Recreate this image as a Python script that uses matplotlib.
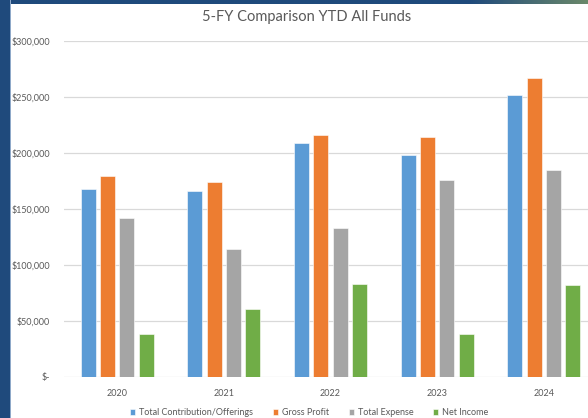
import numpy as np
import matplotlib.pyplot as plt
from matplotlib.patches import Rectangle
from matplotlib.ticker import FuncFormatter

# Datos
years = ["2020", "2021", "2022", "2023", "2024"]
contributions = [167200, 166000, 208300, 198200, 251500]
gross_profit = [179100, 174000, 215700, 214200, 266400]
total_expense = [141300, 113600, 132900, 175500, 184500]
net_income = [37700, 60600, 82300, 38000, 81700]

series_names = ["Total Contribution/Offerings", "Gross Profit", "Total Expense", "Net Income"]
colors = ["#5B9BD5", "#ED7D31", "#A5A5A5", "#70AD47"]
text_color = "#595959"

plt.rcParams['font.family'] = ['Lato', 'DejaVu Sans']

W, H = 588, 418
fig = plt.figure(figsize=(W / 100, H / 100), dpi=100)
fig.patch.set_facecolor("white")

# Marco azul (izquierda y arriba, con degradado a verde)
fig.patches.append(Rectangle((0, 0), 9.5 / W, 1, transform=fig.transFigure,
                             facecolor="#1F4A7C", edgecolor="none", zorder=0))
fig.patches.append(Rectangle((9.5 / W, 0), 1.2 / W, 1, transform=fig.transFigure,
                             facecolor="#8FA9C9", edgecolor="none", zorder=0))
band = fig.add_axes([0, 1 - 4.5 / H, 1, 4.5 / H])
grad = np.linspace(0, 1, 256)
r = np.interp(grad, [0, 0.8, 1], [0x1F, 0x1F, 0x6A])
g = np.interp(grad, [0, 0.8, 1], [0x4A, 0x4A, 0x88])
b = np.interp(grad, [0, 0.8, 1], [0x7C, 0x7C, 0x6A])
band.imshow(np.dstack([r, g, b]) / 255, aspect="auto")
band.axis("off")

# Ejes de la grafica
left, right = 64, 597
bottom, top = 376.5, 40.7
ax = fig.add_axes([left / W, 1 - bottom / H, (right - left) / W, (bottom - top) / H])
ax.set_facecolor("white")

x = np.arange(len(years))
step = 0.181
width = 0.141
data = [contributions, gross_profit, total_expense, net_income]
for i, (vals, name, c) in enumerate(zip(data, series_names, colors)):
    ax.bar(x + (i - 1.5) * step, vals, width, color=c, label=name,
           edgecolor="white", linewidth=0.4, zorder=3)

ax.set_xlim(-0.5, len(years) - 0.5)
ax.set_ylim(0, 300000)
ax.set_yticks(np.arange(0, 300001, 50000))
ax.yaxis.set_major_formatter(FuncFormatter(lambda v, p: "$-" if v == 0 else f"${v:,.0f}"))
ax.set_xticks(x)
ax.set_xticklabels(years)
ax.tick_params(axis="both", length=0, labelsize=6.5, colors=text_color)
ax.tick_params(axis="y", pad=10)
ax.tick_params(axis="x", pad=9)
ax.grid(axis="y", color="#D9D9D9", linewidth=0.9, zorder=0)
for s in ax.spines.values():
    s.set_visible(False)

fig.text(307 / W, 1 - 17 / H, "5-FY Comparison YTD All Funds", ha="center", va="center",
         fontsize=10.5, color=text_color)

fig.legend(loc="center", bbox_to_anchor=(309 / W, 1 - 412.5 / H), ncol=4, frameon=False,
           fontsize=6.5, handlelength=0.6, handleheight=0.6, handletextpad=0.4,
           columnspacing=2.2, labelcolor=text_color)

fig.savefig("out.png", dpi=100)
